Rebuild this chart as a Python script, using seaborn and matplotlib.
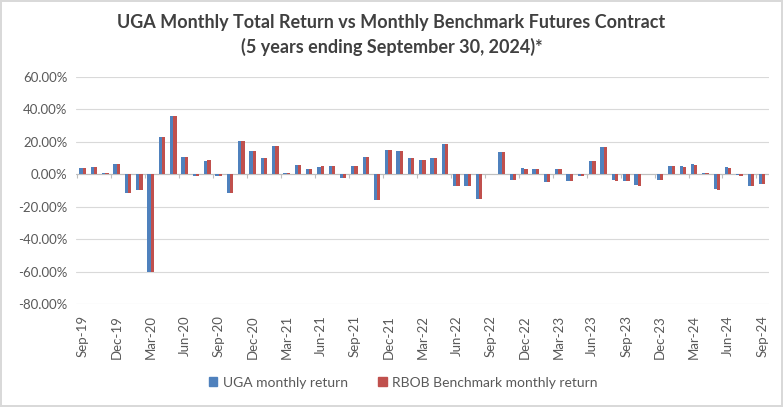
import matplotlib
matplotlib.use("Agg")
import matplotlib.pyplot as plt
import seaborn as sns
import pandas as pd
import numpy as np

months = ["Sep-19","Oct-19","Nov-19","Dec-19","Jan-20","Feb-20","Mar-20","Apr-20","May-20","Jun-20",
          "Jul-20","Aug-20","Sep-20","Oct-20","Nov-20","Dec-20","Jan-21","Feb-21","Mar-21","Apr-21",
          "May-21","Jun-21","Jul-21","Aug-21","Sep-21","Oct-21","Nov-21","Dec-21","Jan-22","Feb-22",
          "Mar-22","Apr-22","May-22","Jun-22","Jul-22","Aug-22","Sep-22","Oct-22","Nov-22","Dec-22",
          "Jan-23","Feb-23","Mar-23","Apr-23","May-23","Jun-23","Jul-23","Aug-23","Sep-23","Oct-23",
          "Nov-23","Dec-23","Jan-24","Feb-24","Mar-24","Apr-24","May-24","Jun-24","Jul-24","Aug-24","Sep-24"]

uga = [3.7, 4.3, 0.6, 6.2, -11.6, -9.7, -60.3, 22.9, 35.9, 10.5,
       -0.8, 8.0, -0.8, -11.6, 20.6, 14.2, 9.9, 17.3, 0.6, 5.6,
       3.1, 4.3, 5.0, -2.3, 5.0, 10.5, -15.9, 14.9, 14.2, 9.9,
       8.7, 9.9, 18.6, -7.2, -7.2, -15.3, 0.1, 13.6, -3.5, 3.7,
       3.1, -4.7, 3.1, -3.9, -0.8, 8.0, 16.7, -3.5, -4.1, -6.6,
       0.0, -3.5, 5.0, 5.0, 6.2, 0.6, -9.1, 4.3, -0.3, -7.2, -6.0]

rbob = [3.7, 4.3, 0.6, 6.2, -11.6, -9.7, -60.3, 22.9, 35.9, 10.5,
        -0.8, 8.7, -0.8, -11.6, 20.6, 14.2, 9.9, 17.3, 0.6, 5.6,
        3.1, 5.0, 5.0, -2.3, 5.0, 10.5, -15.9, 14.9, 14.2, 9.9,
        8.7, 9.9, 18.6, -7.2, -7.2, -15.3, 0.1, 13.6, -3.5, 3.1,
        3.1, -4.9, 3.1, -3.9, -0.8, 8.0, 16.7, -4.1, -4.1, -7.2,
        0.0, -3.5, 5.0, 4.3, 5.6, 0.6, -9.7, 3.7, -0.8, -7.2, -6.0]

series_names = ["UGA monthly return", "RBOB Benchmark monthly return"]
colors = ["#4F81BD", "#C0504D"]
yticks = [-80, -60, -40, -20, 0, 20, 40, 60]

df = pd.DataFrame({
    "month": months * 2,
    "series": [series_names[0]] * len(months) + [series_names[1]] * len(months),
    "value": uga + rbob,
})

sns.set_style("white")
plt.rcParams["font.family"] = ["Lato", "DejaVu Sans"]

fig = plt.figure(figsize=(7.83, 4.07), dpi=100)
ax = fig.add_axes([0.097, 0.253, 0.885, 0.558])

sns.barplot(data=df, x="month", y="value", hue="series", order=months,
            hue_order=series_names, palette=colors, width=0.58, saturation=1,
            errorbar=None, ax=ax, zorder=3, linewidth=0, legend=False)

ax.set_ylim(-80, 60)
ax.set_yticks(yticks)
ax.set_yticklabels([f"{v:.2f}%" for v in yticks], fontsize=9.5, color="#595959")
ax.yaxis.grid(True, color="#D9D9D9", linewidth=0.8, zorder=0)
ax.xaxis.grid(False)
ax.set_xlim(-0.6, len(months) - 0.4)

idx = list(range(0, len(months), 3))
ax.set_xticks(idx)
ax.set_xticklabels([months[i] for i in idx], rotation=90, fontsize=9.5, color="#595959")
ax.tick_params(axis="both", length=0, pad=6)
ax.tick_params(axis="x", pad=8)

# zero axis line and category tick marks
ax.axhline(0, color="#BFBFBF", linewidth=0.8, zorder=2)
ax.vlines([i - 0.5 for i in idx], -2.2, 0, color="#BFBFBF", linewidth=0.8, zorder=2)

for s in ax.spines.values():
    s.set_visible(False)
ax.set_xlabel("")
ax.set_ylabel("")

handles = [plt.Rectangle((0, 0), 1, 1, color=c) for c in colors]
leg = fig.legend(handles, series_names, loc="center", bbox_to_anchor=(0.515, 0.06), ncol=2,
                 frameon=False, fontsize=10, handlelength=0.6, handleheight=0.6,
                 columnspacing=2.2, handletextpad=0.4)
for t in leg.get_texts():
    t.set_color("#595959")

fig.text(0.5, 0.945, "UGA Monthly Total Return vs Monthly Benchmark Futures Contract",
         ha="center", va="center", fontsize=13, fontweight="bold", color="#404040")
fig.text(0.5, 0.885, "(5 years ending September 30, 2024)*",
         ha="center", va="center", fontsize=13, fontweight="bold", color="#404040")

fig.patch.set_edgecolor("#D9D9D9")
fig.patch.set_linewidth(1.5)

fig.savefig("out.png", dpi=100, edgecolor=fig.get_edgecolor())
